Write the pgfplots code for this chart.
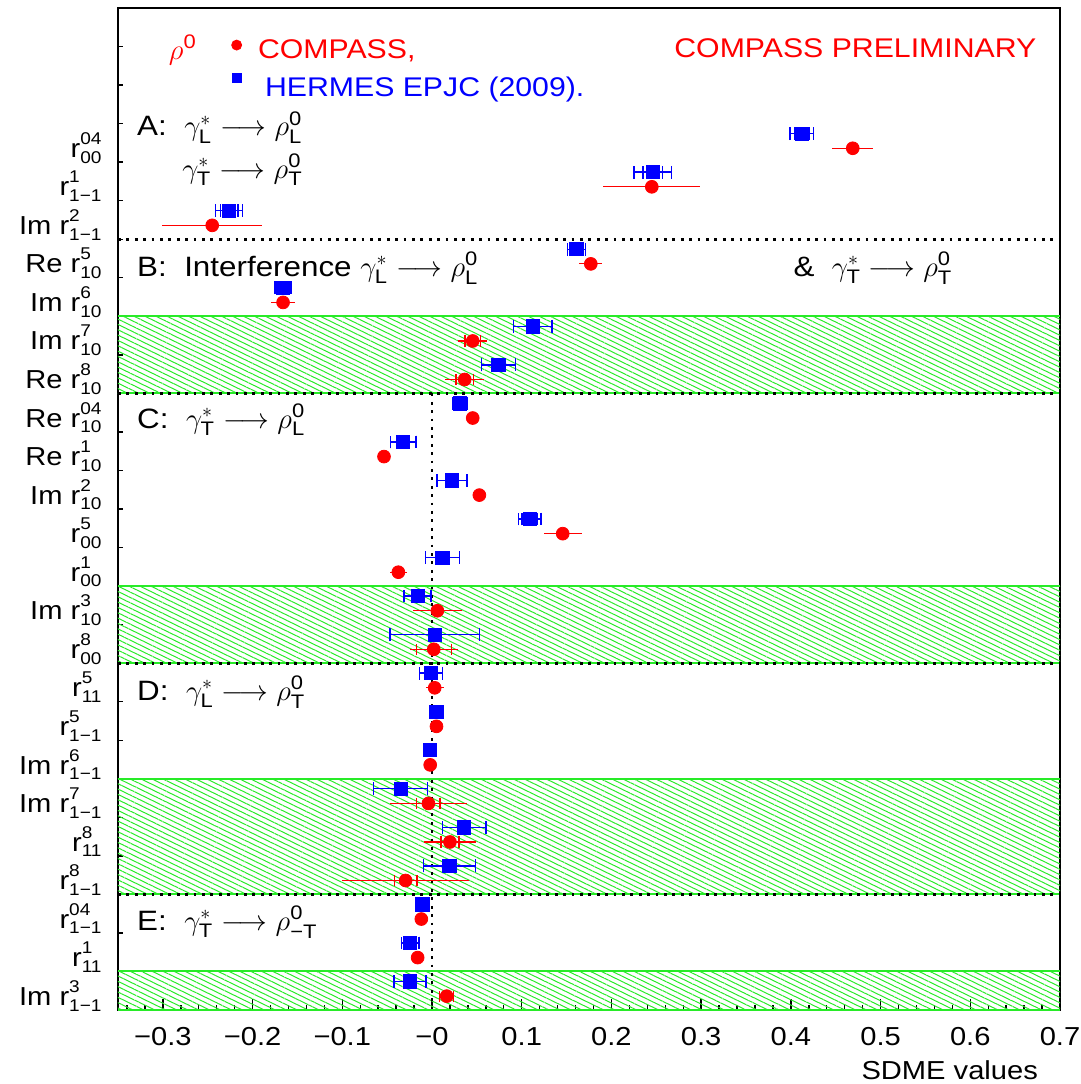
\documentclass[border=0pt]{standalone}
\usepackage{amsmath}
\usepackage{pgfplots}
\pgfplotsset{compat=1.18}
\usepackage{pgfplotstable}
\usepackage{fontspec}
\setmainfont{Liberation Sans}[FakeStretch=1.12]
\usetikzlibrary{patterns.meta,calc}

\definecolor{hgreen}{RGB}{40,235,40}
\definecolor{cred}{RGB}{255,0,0}
\definecolor{cblue}{RGB}{0,0,255}

\newcommand{\sd}[2]{r\rlap{\raisebox{0.5em}{\fontsize{8.5}{9}\selectfont #1}}\raisebox{-0.22em}{\fontsize{8.5}{9}\selectfont #2}}
\newcommand{\ann}{\fontsize{14}{16}\selectfont}

% HERMES EPJC (2009): x, y, total error, stat error
\pgfplotstableread{
x y et es
0.412 22.74 0.013 0.008
0.246 21.74 0.021 0.0106
-0.226 20.74 0.015 0.0097
0.161 19.74 0.010 0.010
-0.166 18.74 0.009 0.009
0.1123 17.74 0.0214 0.0214
0.074 16.74 0.019 0.019
0.0312 15.74 0.008 0.008
-0.032 14.74 0.014 0.014
0.0223 13.74 0.0167 0.0167
0.109 12.74 0.0125 0.0086
0.0115 11.74 0.019 0.019
-0.016 10.74 0.015 0.015
0.003 9.74 0.050 0.050
-0.001 8.74 0.013 0.013
0.005 7.74 0.004 0.004
-0.002 6.74 0.005 0.005
-0.035 5.74 0.030 0.030
0.036 4.74 0.024 0.024
0.0193 3.74 0.029 0.029
-0.0108 2.74 0.004 0.004
-0.0245 1.74 0.0098 0.0098
-0.0245 0.74 0.0177 0.0177
}\hermes

% COMPASS preliminary: x, y, total error, stat error
\pgfplotstableread{
x y et es
0.469 22.36 0.0227 0
0.245 21.36 0.054 0
-0.245 20.36 0.056 0
0.177 19.36 0.013 0
-0.166 18.36 0.013 0
0.0454 17.36 0.016 0.0087
0.0364 16.36 0.022 0.0097
0.0454 15.36 0.005 0
-0.0535 14.36 0.004 0
0.0528 13.36 0.004 0
0.1457 12.36 0.0214 0
-0.0375 11.36 0.0097 0
0.006 10.36 0.027 0
0.002 9.36 0.027 0.0197
0.003 8.36 0.010 0
0.005 7.36 0.003 0
-0.002 6.36 0.003 0
-0.004 5.36 0.043 0.013
0.020 4.36 0.029 0.010
-0.0294 3.36 0.0708 0.0126
-0.0119 2.36 0.003 0
-0.016 1.36 0.003 0
0.0164 0.36 0.008 0.008
}\compass

\begin{document}
\begin{tikzpicture}[font=\fontsize{13}{15}\selectfont]
\begin{axis}[name=ax, at={(0,0)}, anchor=south west,
  scale only axis, width=471pt, height=501pt,
  xmin=-0.35, xmax=0.7, ymin=0, ymax=26,
  axis line style={line width=1pt},
  tick pos=left, tick align=inside,
  xtick={-0.3,-0.2,-0.1,0,0.1,0.2,0.3,0.4,0.5,0.6,0.7},
  xticklabels={−0.3,−0.2,−0.1,−0,0.1,0.2,0.3,0.4,0.5,0.6,0.7},
  minor xtick={-0.34,-0.32,...,0.69},
  major tick length=5.5pt, minor tick length=2.6pt,
  every tick/.style={black, line width=0.7pt},
  ytick={0.5,1.5,...,22.5},
  yticklabels={{Im \sd{3}{1−1}},{\sd{1}{11}},{\sd{04}{1−1}},{\sd{8}{1−1}},{\sd{8}{11}},{Im \sd{7}{1−1}},{Im \sd{6}{1−1}},{\sd{5}{1−1}},{\sd{5}{11}},{\sd{8}{00}},{Im \sd{3}{10}},{\sd{1}{00}},{\sd{5}{00}},{Im \sd{2}{10}},{Re \sd{1}{10}},{Re \sd{04}{10}},{Re \sd{8}{10}},{Im \sd{7}{10}},{Im \sd{6}{10}},{Re \sd{5}{10}},{Im \sd{2}{1−1}},{\sd{1}{1−1}},{\sd{04}{00}}},
  minor ytick={1,2,...,25},
  major y tick style={draw=none},
  xticklabel style={yshift=-5pt},
  yticklabel style={xshift=-4.7pt, yshift=-2.5pt},
  xlabel={SDME values},
  every axis x label/.style={at={(rel axis cs:1,0)}, anchor=east, xshift=-7.5pt, yshift=-30pt},
  clip=false,
  legend style={draw=none, fill=none, at={(axis cs:-0.2242,25.2)}, anchor=north west,
    inner sep=0pt, row sep=6pt, column sep=8pt, font=\fontsize{13.5}{15}\selectfont,
    nodes={inner sep=0pt, anchor=base west}},
]
% hatched bands
\fill[pattern={Lines[angle=-26,distance=2.4pt,line width=0.5pt]}, pattern color=hgreen] (axis cs:-0.35,16) rectangle (axis cs:0.7,18);
\fill[pattern={Lines[angle=-26,distance=2.4pt,line width=0.5pt]}, pattern color=hgreen] (axis cs:-0.35,9) rectangle (axis cs:0.7,11);
\fill[pattern={Lines[angle=-26,distance=2.4pt,line width=0.5pt]}, pattern color=hgreen] (axis cs:-0.35,3) rectangle (axis cs:0.7,6);
\fill[pattern={Lines[angle=-26,distance=2.4pt,line width=0.5pt]}, pattern color=hgreen] (axis cs:-0.35,0) rectangle (axis cs:0.7,1);
\draw[hgreen, line width=1pt] (axis cs:-0.35,16) -- (axis cs:0.7,16) (axis cs:-0.35,18) -- (axis cs:0.7,18)
  (axis cs:-0.35,9) -- (axis cs:0.7,9) (axis cs:-0.35,11) -- (axis cs:0.7,11)
  (axis cs:-0.35,3) -- (axis cs:0.7,3) (axis cs:-0.35,6) -- (axis cs:0.7,6)
  (axis cs:-0.35,0) -- (axis cs:0.7,0) (axis cs:-0.35,1) -- (axis cs:0.7,1);
% dotted separators
\draw[line width=1.4pt, dash pattern=on 1.4pt off 2.8pt]
  (axis cs:-0.35,20) -- (axis cs:0.7,20)
  (axis cs:-0.35,16) -- (axis cs:0.7,16)
  (axis cs:-0.35,9) -- (axis cs:0.7,9)
  (axis cs:-0.35,3) -- (axis cs:0.7,3)
  (axis cs:0,16) -- (axis cs:0,0);

\addlegendimage{legend image code/.code={\draw[cred, fill=cred] (0pt,6.5pt) circle (2.5pt);}}
\addlegendentry{\textcolor{cred}{COMPASS,}}
\addlegendimage{legend image code/.code={\fill[cblue] (-2.2pt,7.3pt) rectangle (2.2pt,11.7pt);}}
\addlegendentry{\hspace*{3.5pt}\textcolor{cblue}{HERMES EPJC (2009).}}

% HERMES
\addplot[cblue, only marks, mark=none, forget plot,
  error bars/.cd, x dir=both, x explicit, error mark=|,
  error bar style={line width=0.7pt},
  error mark options={mark size=3.2pt, line width=0.7pt}]
  table[x=x, y=y, x error=et]{\hermes};
\addplot[cblue, only marks, mark=none, forget plot,
  error bars/.cd, x dir=both, x explicit, error mark=|,
  error bar style={line width=0.7pt},
  error mark options={mark size=3.2pt, line width=0.7pt}]
  table[x=x, y=y, x error=es]{\hermes};
\addplot[cblue, only marks, mark=square*, mark size=3.3pt, forget plot] table[x=x, y=y]{\hermes};
% COMPASS
\addplot[cred, only marks, mark=none, forget plot,
  error bars/.cd, x dir=both, x explicit, error mark=none,
  error bar style={line width=0.6pt}]
  table[x=x, y=y, x error=et]{\compass};
\addplot[cred, only marks, mark=none, forget plot,
  error bars/.cd, x dir=both, x explicit, error mark=|,
  error bar style={line width=0.6pt},
  error mark options={mark size=2.8pt, line width=0.6pt}]
  table[x=x, y=y, x error=es]{\compass};
\addplot[cred, only marks, mark=*, mark size=3.2pt, forget plot] table[x=x, y=y]{\compass};

% annotations
\node[text=cred, font=\ann] at (axis cs:-0.2777,24.91) {$\rho^{\text{0}}$};
\node[text=cred, anchor=east, font=\fontsize{13.5}{15}\selectfont] at (axis cs:0.6814,24.96) {COMPASS PRELIMINARY};
\node[anchor=west, font=\ann, inner sep=0pt] at (axis cs:-0.329,22.9) {A: \ $\gamma^{*}_{\text{L}}\longrightarrow\rho^{\text{0}}_{\text{L}}$};
\node[anchor=west, font=\ann, inner sep=0pt] at (axis cs:-0.2788,21.8) {$\gamma^{*}_{\text{T}}\longrightarrow\rho^{\text{0}}_{\text{T}}$};
\node[anchor=west, font=\ann, inner sep=0pt] at (axis cs:-0.329,19.25) {B: \ Interference $\gamma^{*}_{\text{L}}\longrightarrow\rho^{\text{0}}_{\text{L}}$};
\node[anchor=west, font=\ann, inner sep=0pt] at (axis cs:0.4026,19.25) {\& \ $\gamma^{*}_{\text{T}}\longrightarrow\rho^{\text{0}}_{\text{T}}$};
\node[anchor=west, font=\ann, inner sep=0pt] at (axis cs:-0.329,15.31) {C: \ $\gamma^{*}_{\text{T}}\longrightarrow\rho^{\text{0}}_{\text{L}}$};
\node[anchor=west, font=\ann, inner sep=0pt] at (axis cs:-0.329,8.25) {D: \ $\gamma^{*}_{\text{L}}\longrightarrow\rho^{\text{0}}_{\text{T}}$};
\node[anchor=west, font=\ann, inner sep=0pt] at (axis cs:-0.329,2.28) {E: \ $\gamma^{*}_{\text{T}}\longrightarrow\rho^{\text{0}}_{\text{−T}}$};
\end{axis}
\pgfresetboundingbox
\useasboundingbox ($(ax.south west)+(-59pt,-37pt)$) rectangle ($(ax.north east)+(10.5pt,4pt)$);
\end{tikzpicture}
\end{document}
